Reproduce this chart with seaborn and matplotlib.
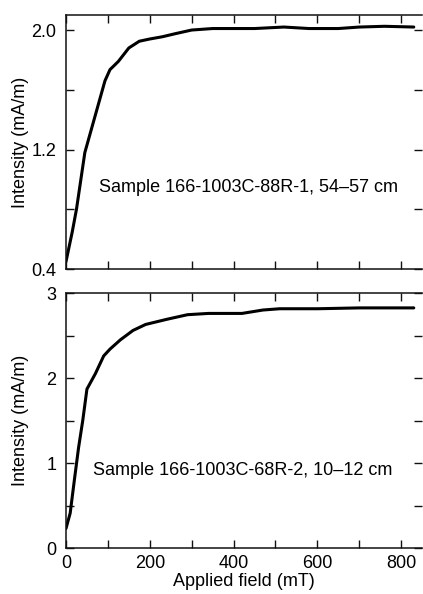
import numpy as np
import pandas as pd
import matplotlib
matplotlib.use("Agg")
import matplotlib.pyplot as plt
import seaborn as sns

# ---- data ----
field_top = [0, 15, 25, 45, 60, 80, 93, 105, 125, 150, 175, 200, 230, 260, 300,
             350, 450, 520, 580, 650, 700, 760, 830]
intensity_top = [0.45, 0.65, 0.80, 1.18, 1.33, 1.53, 1.66, 1.735, 1.79, 1.88, 1.925,
                 1.94, 1.955, 1.975, 2.0, 2.01, 2.01, 2.02, 2.01, 2.01, 2.02, 2.025, 2.02]

field_bot = [0, 10, 20, 30, 40, 50, 70, 90, 105, 130, 160, 190, 240, 290, 340,
             420, 470, 510, 600, 700, 830]
intensity_bot = [0.23, 0.41, 0.80, 1.18, 1.50, 1.87, 2.05, 2.26, 2.34, 2.45, 2.56,
                 2.63, 2.69, 2.745, 2.76, 2.76, 2.80, 2.815, 2.815, 2.825, 2.825]

label_top = "Sample 166-1003C-88R-1, 54\u201357 cm"
label_bot = "Sample 166-1003C-68R-2, 10\u201312 cm"
x_ticks = [0, 200, 400, 600, 800]
y_ticks_top = [0.4, 1.2, 2.0]
y_ticks_bot = [0, 1, 2, 3]

sns.set_style("ticks")
plt.rcParams["font.family"] = ["Liberation Sans", "DejaVu Sans"]
plt.rcParams["font.size"] = 13
plt.rcParams["text.color"] = "black"
plt.rcParams["axes.labelcolor"] = "black"
plt.rcParams["xtick.color"] = "black"
plt.rcParams["ytick.color"] = "black"

fig = plt.figure(figsize=(4.23, 5.94), dpi=100)
ax1 = fig.add_axes([0.156, 0.547, 0.842, 0.4276])
ax2 = fig.add_axes([0.156, 0.0774, 0.842, 0.4293])

df_top = pd.DataFrame({"field": field_top, "intensity": intensity_top})
df_bot = pd.DataFrame({"field": field_bot, "intensity": intensity_bot})

sns.lineplot(data=df_top, x="field", y="intensity", ax=ax1, color="black", lw=2.2)
sns.lineplot(data=df_bot, x="field", y="intensity", ax=ax2, color="black", lw=2.2)

for ax in (ax1, ax2):
    ax.set_xlim(0, 850)
    ax.set_xticks(x_ticks)
    ax.set_xticks(np.arange(0, 851, 100), minor=True)
    ax.spines["right"].set_visible(False)
    for s in ("left", "top", "bottom"):
        ax.spines[s].set_linewidth(1.1)
        ax.spines[s].set_color("#111111")
    ax.tick_params(which="both", direction="in", top=True, right=True,
                   length=6, width=1.0, color="#111111", labelsize=13,
                   labelcolor="black")
    ax.tick_params(axis="y", pad=7)
    ax.tick_params(axis="x", pad=5)
    ax.set_ylabel("Intensity (mA/m)", fontsize=13, color="black")
    ax.yaxis.set_label_coords(-0.105, 0.5)

ax1.set_ylim(0.4, 2.1)
ax1.set_yticks(y_ticks_top)
ax1.set_yticklabels([f"{v:.1f}" for v in y_ticks_top])
ax1.set_yticks([0.4, 0.8, 1.2, 1.6, 2.0], minor=True)
ax1.tick_params(axis="x", which="both", labelbottom=False)
ax1.set_xlabel("")
ax1.text(79, 0.945, label_top, fontsize=13, va="center", ha="left", color="black")

ax2.set_ylim(0, 3)
ax2.set_yticks(y_ticks_bot)
ax2.set_yticks(np.arange(0, 3.01, 0.5), minor=True)
ax2.set_xlabel("Applied field (mT)", fontsize=13, labelpad=1, color="black")
ax2.text(64, 0.91, label_bot, fontsize=13, va="center", ha="left", color="black")

fig.savefig("out.png", dpi=100)
